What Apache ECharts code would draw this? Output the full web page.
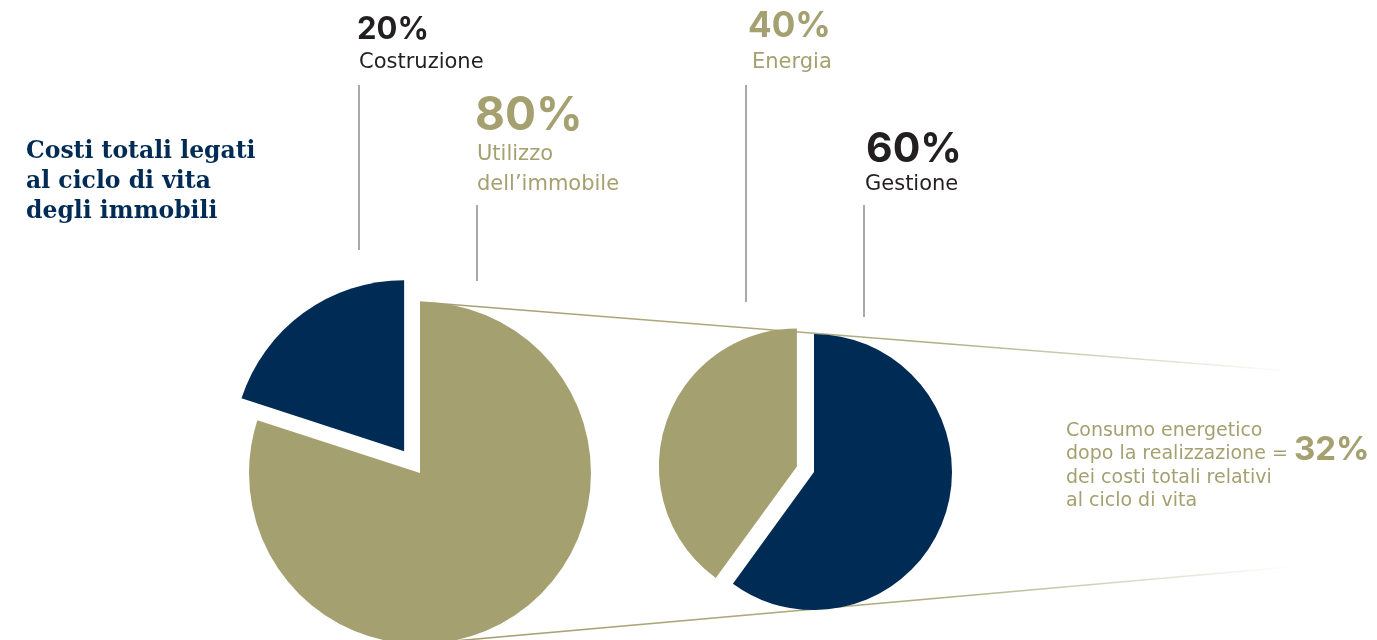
<!DOCTYPE html>
<html><head><meta charset="utf-8">
<script src="https://cdn.jsdelivr.net/npm/echarts@6/dist/echarts.min.js"></script>
<style>html,body{margin:0;padding:0;background:#fff}#c{width:1377px;height:640px}</style>
</head><body><div id="c"></div>
<script>
// ---- data ----
const totalCats = ['Utilizzo dell\u2019immobile', 'Costruzione'];
const totalVals = [80, 20];
const useCats = ['Gestione', 'Energia'];
const useVals = [60, 40];
const titleLines = ['Costi totali legati', 'al ciclo di vita', 'degli immobili'];
const noteLines = ['Consumo energetico', 'dopo la realizzazione =', 'dei costi totali relativi', 'al ciclo di vita'];
const noteValue = '32%';

// ---- style ----
const NAVY = '#002b55', GOLD = '#a5a070', DARK = '#231f20', GREY = '#8c8c8c';
const BFONT = 'Inter';
const RFONT = 'DejaVu Sans';
const big = {cx: 420, cy: 473, r: 171};
const small = {cx: 814, cy: 472, r: 138};

const chart = echarts.init(document.getElementById('c'), null, {renderer: 'canvas'});

function txt(x, y, text, size, color, weight) {
  return {type: 'text', x: x, y: y, z: 10, silent: true,
    style: {text: text, fill: color, fontFamily: weight ? BFONT : RFONT, fontSize: size, fontWeight: weight || 'normal', verticalAlign: 'middle', align: 'left'}};
}
function vline(x, y1, y2) {
  return {type: 'line', z: 5, silent: true, shape: {x1: x, y1: y1, x2: x, y2: y2}, style: {stroke: GREY, lineWidth: 1.5}};
}
function fadeLine(x1, y1, x2, y2) {
  return {type: 'line', z: 1, silent: true, shape: {x1: x1, y1: y1, x2: x2, y2: y2},
    style: {lineWidth: 1.6, stroke: {type: 'linear', x: 0, y: 0, x2: 1, y2: 0,
      colorStops: [{offset: 0, color: 'rgba(165,160,112,1)'}, {offset: 0.6, color: 'rgba(165,160,112,0.85)'}, {offset: 1, color: 'rgba(165,160,112,0)'}]}}};
}

const pct = v => v + '%';

const elements = [
  // title
  {type: 'text', x: 26, y: 137, z: 10, silent: true,
    style: {text: titleLines.join('\n'), fill: NAVY, fontFamily: 'DejaVu Serif', fontWeight: 'bold', fontSize: 23.5, lineHeight: 30, verticalAlign: 'top'}},
  // connector lines
  fadeLine(big.cx, big.cy - big.r, 1290, 371),
  fadeLine(big.cx, big.cy + big.r, 1290, 567),
  // leader lines
  vline(359, 85, 250), vline(477, 205, 281), vline(746, 85, 302), vline(864, 205, 317),
  // labels
  txt(357, 30, pct(totalVals[1]), 31, DARK, 'bold'),
  txt(359, 63, totalCats[1], 21, DARK),
  txt(475, 116, pct(totalVals[0]), 46, GOLD, 'bold'),
  txt(477, 155, 'Utilizzo', 21, GOLD),
  txt(477, 185, 'dell\u2019immobile', 21, GOLD),
  txt(748, 26, pct(useVals[1]), 35, GOLD, 'bold'),
  txt(752, 63, useCats[1], 21, GOLD),
  txt(866, 150, pct(useVals[0]), 41, DARK, 'bold'),
  txt(865, 185, useCats[0], 21, DARK),
  // note
  {type: 'text', x: 1066, y: 419, z: 10, silent: true,
    style: {text: noteLines.join('\n'), fill: GOLD, fontFamily: RFONT, fontSize: 19, lineHeight: 23.5, verticalAlign: 'top'}},
  txt(1294, 450, noteValue, 33, GOLD, 'bold')
];

function pieSeries(c, cats, vals, colors, selIdx, offset) {
  return {
    type: 'pie', center: [c.cx, c.cy], radius: c.r, startAngle: 90, clockwise: true,
    selectedMode: 'single', selectedOffset: offset, animation: false, silent: true, z: 2,
    label: {show: false}, labelLine: {show: false},
    emphasis: {disabled: true},
    select: {itemStyle: {borderWidth: 0}},
    itemStyle: {borderWidth: 0},
    data: cats.map((n, i) => ({name: n, value: vals[i], selected: i === selIdx, itemStyle: {color: colors[i]}}))
  };
}

chart.setOption({
  animation: false,
  backgroundColor: '#ffffff',
  graphic: {elements: elements},
  series: [
    pieSeries(big, totalCats, totalVals, [GOLD, NAVY], 1, 27),
    pieSeries(small, useCats, useVals, [NAVY, GOLD], 1, 18)
  ]
});
</script></body></html>
